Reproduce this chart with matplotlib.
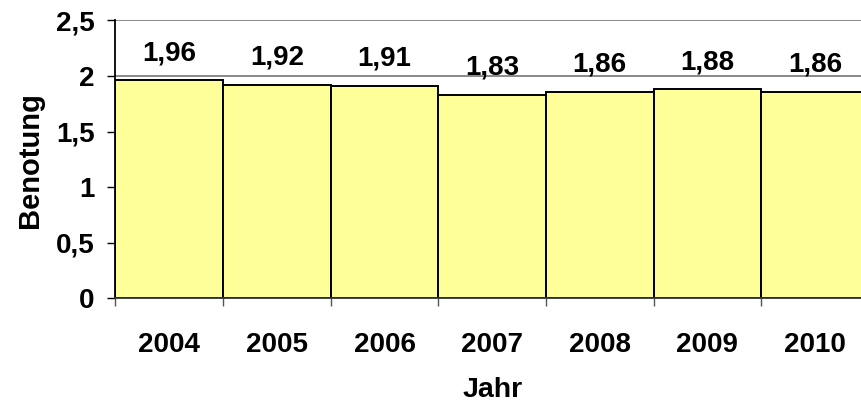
import matplotlib.pyplot as plt
import numpy as np

jahre = ['2004', '2005', '2006', '2007', '2008', '2009', '2010']
benotung = [1.96, 1.92, 1.91, 1.83, 1.86, 1.88, 1.86]

plt.rcParams['font.family'] = 'Liberation Sans'
plt.rcParams['font.weight'] = 'bold'
fs = 20

fig = plt.figure(figsize=(8.61, 4.05), dpi=100)
# plot area runs a little past the right edge, like the reference crop
ax = fig.add_axes([0.1341, 0.2635, 0.8750, 0.686])

x = np.arange(len(jahre))
ax.bar(x, benotung, width=1.0, color='#FFFF99', edgecolor='black', linewidth=1.4, zorder=2)

for xi, v in zip(x, benotung):
    lbl = f'{v:.2f}'.replace('.', ',')
    ax.annotate(lbl, (xi, v), xytext=(0, 14.5), textcoords='offset points',
                ha='center', va='baseline', fontsize=fs, fontweight='bold')

ax.set_xlim(-0.5, len(jahre) - 0.5)
ax.set_ylim(0, 2.5)

yt = [0, 0.5, 1, 1.5, 2, 2.5]
ax.set_yticks(yt)
ax.set_yticklabels([str(t).replace('.', ',') if t % 1 else str(int(t)) for t in yt], fontsize=fs, fontweight='bold')
ax.tick_params(axis='y', length=6, width=1, color='black', pad=9)

# year labels on minor ticks, tick marks at bar boundaries
ax.set_xticks(np.arange(len(jahre) + 1) - 0.5)
ax.set_xticklabels([])
ax.set_xticks(x, minor=True)
ax.set_xticklabels(jahre, minor=True, fontsize=fs, fontweight='bold')
ax.tick_params(axis='x', which='major', length=6, width=1, color='#555555')
ax.tick_params(axis='x', which='minor', length=0, pad=24)

ax.yaxis.grid(True, color='#808080', linewidth=1.3, zorder=0)
ax.set_axisbelow(True)

for s in ['top', 'right']:
    ax.spines[s].set_visible(False)
ax.spines['left'].set_color('black')
ax.spines['left'].set_linewidth(1.3)
ax.spines['bottom'].set_color('#333333')
ax.spines['bottom'].set_linewidth(1.3)

fig.text(30 / 861, 1 - 160 / 405, 'Benotung', rotation=90, ha='center', va='center',
         fontsize=21, fontweight='bold')
fig.text(493 / 861, 1 - 390 / 405, 'Jahr', ha='center', va='center',
         fontsize=20.5, fontweight='bold')

fig.savefig('out.png', dpi=100)
